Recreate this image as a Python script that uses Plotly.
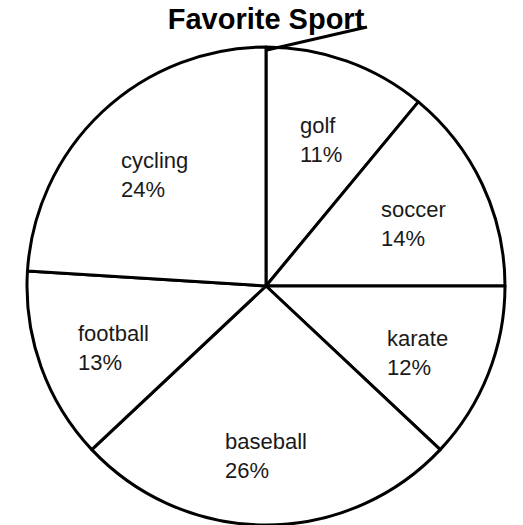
import math
import plotly.graph_objects as go

# Data
sports = ["golf", "soccer", "karate", "baseball", "football", "cycling"]
percents = [11, 14, 12, 26, 13, 24]
title_text = "Favorite Sport"

W, H = 523, 525
dom_x = [27 / W, 505 / W]
dom_y = [0.0, 478 / H]

fig = go.Figure(
    go.Pie(
        labels=sports,
        values=percents,
        sort=False,
        direction="clockwise",
        rotation=0,
        marker=dict(colors=["white"] * len(sports), line=dict(color="black", width=3)),
        textinfo="none",
        hoverinfo="label+percent",
        showlegend=False,
        domain=dict(x=dom_x, y=dom_y),
    )
)

# Labels placed along each slice's bisector, derived from the data
cx = (dom_x[0] + dom_x[1]) / 2
cy = (dom_y[0] + dom_y[1]) / 2
R_px = min((dom_x[1] - dom_x[0]) * W, (dom_y[1] - dom_y[0]) * H) / 2
total = sum(percents)
cum = 0
frac = 0.68
for name, v in zip(sports, percents):
    mid = (cum + v / 2) / total * 2 * math.pi
    cum += v
    x = cx + frac * R_px * math.sin(mid) / W
    y = cy + frac * R_px * math.cos(mid) / H
    fig.add_annotation(
        x=x, y=y, xref="paper", yref="paper",
        text=f"{name}<br>{round(v / total * 100)}%",
        showarrow=False, align="left", xanchor="center", yanchor="middle",
        yshift=-7,
        font=dict(family="Liberation Sans, Arial, sans-serif", size=22, color="#1a1a1a"),
    )

# stray stroke from the title to the circle top (as in the source image)
fig.add_shape(
    type="line", xref="paper", yref="paper",
    x0=267 / W, y0=1 - 50 / H, x1=367 / W, y1=1 - 27 / H,
    line=dict(color="black", width=3),
)

fig.update_layout(
    width=W, height=H,
    margin=dict(l=0, r=0, t=0, b=0),
    paper_bgcolor="white",
    plot_bgcolor="white",
    title=dict(
        text=f"<b>{title_text}</b>",
        x=266 / W, xanchor="center",
        y=1 - 19 / H, yanchor="middle", yref="container",
        font=dict(family="Liberation Sans, Arial, sans-serif", size=29, color="black"),
    ),
)

fig.write_html(
    "out.html",
    config={"displayModeBar": False},
    post_script="document.body.style.margin='0';document.body.style.overflow='hidden';",
)
